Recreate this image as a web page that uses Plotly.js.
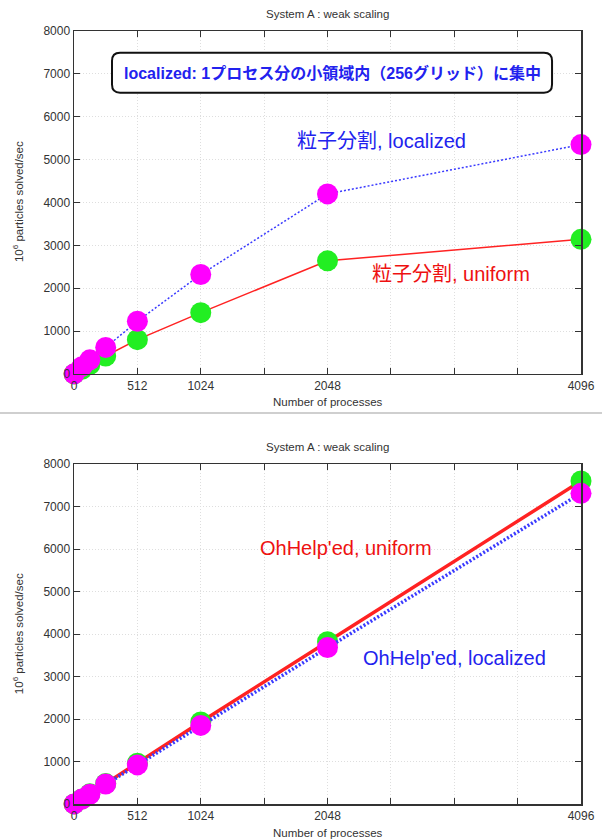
<!DOCTYPE html>
<html>
<head>
<meta charset="utf-8">
<script src="https://cdn.plot.ly/plotly-3.0.1.min.js"></script>
<style>html,body{margin:0;padding:0;background:#fff;}#chart{width:602px;height:839px;}</style>
</head>
<body>
<div id="chart"></div>
<script>
// ---- data ----
const processes = [1, 64, 128, 256, 512, 1024, 2048, 4096];
const topUniform   = [2, 110, 220, 420, 800, 1430, 2640, 3140];
const topLocalized = [4, 170, 330, 620, 1230, 2320, 4200, 5350];
const botUniform   = [2, 120, 240, 480, 960, 1930, 3820, 7600];
const botLocalized = [2, 115, 230, 470, 920, 1850, 3680, 7310];
const xTickVals = [0, 512, 1024, 2048, 4096];
const xTickText = ['0', '512', '1024', '2048', '4096'];
const xMinorVals = [1536, 2560, 3072, 3584];
const yTickVals = [0, 1000, 2000, 3000, 4000, 5000, 6000, 7000, 8000];
const chartTitle = 'System A : weak scaling';
const xTitle = 'Number of processes';
const yTitle = '10<sup>6</sup> particles solved/sec';

const font = 'Liberation Sans, Arial, Noto Sans CJK JP, sans-serif';
const jfont = 'Liberation Sans, Arial, Noto Sans CJK JP, sans-serif';
const green = '#22ee22', magenta = '#ff00ff', red = '#ff2222', blue = '#3a3aff';

function trace(y, xa, ya, color, lineColor, dash, lw) {
  return {x: processes, y: y, xaxis: xa, yaxis: ya, type: 'scatter', mode: 'lines+markers',
    line: {color: lineColor, width: lw, dash: dash},
    marker: {color: color, size: 21, line: {width: 0}}, hoverinfo: 'skip', cliponaxis: false};
}
const data = [
  trace(topUniform, 'x', 'y', green, red, 'solid', 1.5),
  trace(topLocalized, 'x', 'y', magenta, blue, '2px,2px', 1.5),
  trace(botUniform, 'x2', 'y2', green, red, 'solid', 3.5),
  trace(botLocalized, 'x2', 'y2', magenta, blue, '2px,2px', 3.5)
];

function xaxis(anchor) {
  return {anchor: anchor, range: [0, 4096], tickmode: 'array', tickvals: xTickVals, ticktext: xTickText,
    ticks: 'inside', ticklen: 6, tickcolor: '#333', mirror: 'ticks', showline: true, linecolor: '#333', linewidth: 1.5,
    showgrid: true, gridcolor: '#dedede', griddash: '1px,2px', gridwidth: 1, zeroline: false,
    tickfont: {family: font, size: 12, color: '#333'},
    minor: {tickmode: 'array', tickvals: xMinorVals, ticks: 'inside', ticklen: 6, tickcolor: '#333', showgrid: true, gridcolor: '#dedede', griddash: '1px,2px'}};
}
function yaxis(anchor, domain) {
  return {anchor: anchor, domain: domain, range: [0, 8000], tickmode: 'array', tickvals: yTickVals,
    ticks: 'inside', ticklen: 6, tickcolor: '#333', mirror: 'ticks', showline: true, linecolor: '#333', linewidth: 1.5,
    showgrid: true, gridcolor: '#dedede', griddash: '1px,2px', gridwidth: 1, zeroline: false,
    tickfont: {family: font, size: 12, color: '#333'}};
}

// rounded box in data coords
const bx0 = 307, bx1 = 3862, by0 = 6560, by1 = 7490, rx = 65, ry = 190;
const boxPath = `M ${bx0+rx},${by0} L ${bx1-rx},${by0} Q ${bx1},${by0} ${bx1},${by0+ry} L ${bx1},${by1-ry} Q ${bx1},${by1} ${bx1-rx},${by1} L ${bx0+rx},${by1} Q ${bx0},${by1} ${bx0},${by1-ry} L ${bx0},${by0+ry} Q ${bx0},${by0} ${bx0+rx},${by0} Z`;

const small = {family: font, size: 11.5, color: '#333'};
const layout = {
  width: 602, height: 839, margin: {l: 74, r: 21, t: 31, b: 35},
  paper_bgcolor: '#fff', plot_bgcolor: '#fff', showlegend: false,
  xaxis: xaxis('y'), yaxis: yaxis('x', [0.5563, 1]),
  xaxis2: xaxis('y2'), yaxis2: yaxis('x2', [0, 0.4398]),
  shapes: [
    {type: 'path', xref: 'x', yref: 'y', path: boxPath, line: {color: '#111', width: 2}, fillcolor: '#fff', layer: 'above'},
    {type: 'line', xref: 'paper', yref: 'paper', x0: -0.2, x1: 1.2, y0: 0.5058, y1: 0.5058, line: {color: '#cfcfcf', width: 2}}
  ],
  annotations: [
    {text: chartTitle, xref: 'paper', yref: 'paper', x: 0.5, y: 1.022, showarrow: false, font: small, yanchor: 'middle'},
    {text: chartTitle, xref: 'paper', yref: 'paper', x: 0.5, y: 0.4618, showarrow: false, font: small, yanchor: 'middle'},
    {text: xTitle, xref: 'paper', yref: 'paper', x: 0.5, y: 0.520, showarrow: false, font: small, yanchor: 'middle'},
    {text: xTitle, xref: 'paper', yref: 'paper', x: 0.5, y: -0.0375, showarrow: false, font: small, yanchor: 'middle'},
    {text: yTitle, xref: 'paper', yref: 'paper', x: -0.110, y: 0.779, textangle: -90, showarrow: false, font: small, xanchor: 'center', yanchor: 'middle'},
    {text: yTitle, xref: 'paper', yref: 'paper', x: -0.110, y: 0.22, textangle: -90, showarrow: false, font: small, xanchor: 'center', yanchor: 'middle'},
    {text: '<b>localized: 1プロセス分の小領域内（256グリッド）に集中</b>', xref: 'x', yref: 'y', x: 2085, y: 7025, showarrow: false,
      font: {family: jfont, size: 16, color: '#2222ee'}},
    {text: '粒子分割, localized', xref: 'x', yref: 'y', x: 2488, y: 5442, showarrow: false, font: {family: jfont, size: 20, color: '#2222ee'}},
    {text: '粒子分割, uniform', xref: 'x', yref: 'y', x: 3046, y: 2326, showarrow: false, font: {family: jfont, size: 20, color: '#ee1111'}},
    {text: "OhHelp'ed, uniform", xref: 'x2', yref: 'y2', x: 2198, y: 6024, showarrow: false, font: {family: font, size: 20, color: '#ee1111'}},
    {text: "OhHelp'ed, localized", xref: 'x2', yref: 'y2', x: 3078, y: 3435, showarrow: false, font: {family: font, size: 20, color: '#2222ee'}}
  ]
};
Plotly.newPlot('chart', data, layout, {displayModeBar: false, staticPlot: true});
</script>
</body>
</html>
